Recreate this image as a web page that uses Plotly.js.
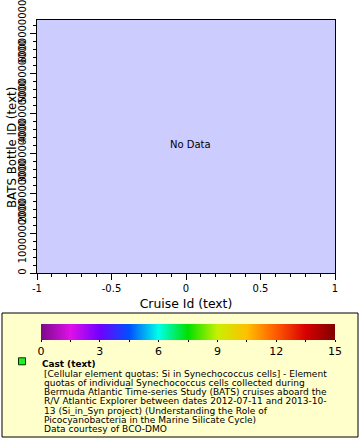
<!DOCTYPE html>
<html><head><meta charset="utf-8">
<script src="https://cdn.plot.ly/plotly-3.0.1.min.js"></script>
<style>body{margin:0;background:#fff}</style>
</head><body><div id="chart" style="width:360px;height:440px"></div>
<script>
// ---- data (no data available for this query) ----
const cruiseIds = [null];
const bottleIds = [null];
const castValues = [null];
const xRange = [-1, 1];
const xTickVals = [-1, -0.5, 0, 0.5, 1];
const xTickText = ['-1', '-0.5', '0', '0.5', '1'];
const yRange = [0, 6.325e9];
const yTickStep = 1e9;
const colorMin = 0;
const colorMax = 15;
const colorTickVals = [0, 1.5, 3, 4.5, 6, 7.5, 9, 10.5, 12, 13.5, 15];
const colorTickText = ['0', '', '3', '', '6', '', '9', '', '12', '', '15'];
const colorStops = [
  [0.0, '#7a0a8a'], [0.1, '#e010e8'], [0.2, '#7000ff'], [0.3, '#0050ff'],
  [0.4, '#00ffe8'], [0.5, '#00e000'], [0.6, '#c8f000'], [0.7, '#ffc000'],
  [0.8, '#ff5a00'], [0.9, '#d80000'], [1.0, '#800000']
];
const xTitle = 'Cruise Id (text)';
const yTitle = 'BATS Bottle ID (text)';
const seriesName = 'Cast (text)';
const descriptionLines = [
  '[Cellular element quotas: Si in Synechococcus cells] - Element',
  'quotas of individual Synechococcus cells collected during',
  'Bermuda Atlantic Time-series Study (BATS) cruises aboard the',
  'R/V Atlantic Explorer between dates 2012-07-11 and 2013-10-',
  '13 (Si_in_Syn project) (Understanding the Role of',
  'Picocyanobacteria in the Marine Silicate Cycle)',
  'Data courtesy of BCO-DMO'
];
const noDataText = 'No Data';

// ---- layout geometry (pixels) ----
const W = 360, H = 440;
const M = {l: 37, r: 25, t: 20, b: 167, autoexpand: false};
const PW = W - M.l - M.r, PH = H - M.t - M.b;
const px = x => (x - M.l) / PW;
const py = y => (H - M.b - y) / PH;
const FONT = 'DejaVu Sans, sans-serif';

const trace = {
  type: 'scatter', mode: 'markers',
  x: cruiseIds, y: bottleIds,
  name: '<b>' + seriesName + '</b>',
  showlegend: true,
  marker: {
    symbol: 'square', size: 7, color: '#22ee22',
    line: {color: '#003300', width: 1},
    colorscale: colorStops, cmin: colorMin, cmax: colorMax, showscale: true,
    colorbar: {
      orientation: 'h', lenmode: 'pixels', len: 294, thickness: 16,
      thicknessmode: 'pixels',
      x: px(188), xanchor: 'center', y: py(324), yanchor: 'top',
      xpad: 0, ypad: 0, outlinewidth: 0,
      tickmode: 'array', tickvals: colorTickVals, ticktext: colorTickText,
      ticks: 'outside', ticklen: 2, tickcolor: '#000',
      tickfont: {family: FONT, size: 11, color: '#000'}
    }
  },
  hoverinfo: 'skip'
};

const annotations = descriptionLines.map((t, i) => ({
  xref: 'paper', yref: 'paper', x: px(42), y: py(373.5 + 9.25 * i),
  xanchor: 'left', yanchor: 'middle', showarrow: false, text: t,
  font: {family: FONT, size: 9.05, color: '#000'}
}));
annotations.push({
  xref: 'paper', yref: 'paper', x: px(190), y: py(144), showarrow: false,
  text: noDataText, font: {family: FONT, size: 10, color: '#000'}
});
annotations.push({
  xref: 'paper', yref: 'paper', x: px(12), y: py(148), showarrow: false,
  textangle: -90, xanchor: 'center', yanchor: 'middle',
  text: yTitle, font: {family: FONT, size: 11.8, color: '#000'}
});

const layout = {
  width: W, height: H, margin: M,
  paper_bgcolor: '#ffffff', plot_bgcolor: '#ccccff',
  font: {family: FONT, color: '#000'},
  showlegend: true,
  legend: {
    x: px(2), y: py(349), xanchor: 'left', yanchor: 'top',
    bgcolor: 'rgba(0,0,0,0)', borderwidth: 0,
    font: {family: FONT, size: 8.9, color: '#000'},
    itemwidth: 30, valign: 'top'
  },
  xaxis: {
    range: xRange, tickmode: 'array', tickvals: xTickVals, ticktext: xTickText,
    showgrid: false, zeroline: false, showline: true, mirror: true,
    linecolor: '#000', linewidth: 1,
    ticks: 'outside', ticklen: 6, tickcolor: '#000',
    minor: {dtick: 0.1, tick0: -1, ticks: 'outside', ticklen: 3, tickcolor: '#000', showgrid: false},
    tickfont: {family: FONT, size: 10},
    title: {text: xTitle, font: {family: FONT, size: 12.4}, standoff: 6},
    automargin: false, fixedrange: true
  },
  yaxis: {
    range: yRange, dtick: yTickStep, tick0: 0, tickformat: 'd',
    showgrid: false, zeroline: false, showline: true, mirror: true,
    linecolor: '#000', linewidth: 1,
    ticks: 'outside', ticklen: 6, tickcolor: '#000',
    minor: {dtick: yTickStep / 5, ticks: 'outside', ticklen: 3, tickcolor: '#000', showgrid: false},
    tickangle: -90, tickfont: {family: FONT, size: 10},
    ticklabeloverflow: 'allow',
    title: {text: ''},
    automargin: false, fixedrange: true
  },
  shapes: [{
    type: 'rect', xref: 'paper', yref: 'paper', layer: 'below',
    x0: px(2), x1: px(358), y0: py(437), y1: py(313),
    fillcolor: '#ffffcc', line: {color: '#000', width: 1}
  }],
  annotations: annotations
};

Plotly.newPlot('chart', [trace], layout, {displayModeBar: false, staticPlot: true});
</script>
</body></html>
